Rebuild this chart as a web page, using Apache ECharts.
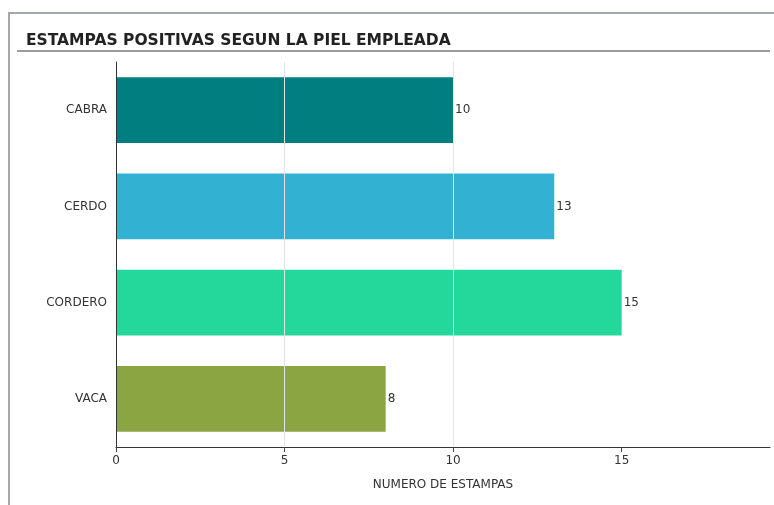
<!DOCTYPE html>
<html><head><meta charset="utf-8">
<script src="https://cdn.jsdelivr.net/npm/echarts@6/dist/echarts.min.js"></script>
<style>html,body{margin:0;padding:0;background:#fff}#c{width:774px;height:505px}</style>
</head><body><div id="c"></div>
<script>
var categories = ['CABRA', 'CERDO', 'CORDERO', 'VACA'];
var values = [10, 13, 15, 8];
var barColors = ['#017f80', '#33b1d3', '#24d89c', '#8ca543'];
var xTicks = [0, 5, 10, 15];
var titleText = 'ESTAMPAS POSITIVAS SEGUN LA PIEL EMPLEADA';
var xName = 'NUMERO DE ESTAMPAS';

var chart = echarts.init(document.getElementById('c'));
chart.setOption({
  animation: false,
  backgroundColor: '#fff',
  title: {
    text: titleText, left: 21, top: 28,
    textStyle: { fontFamily: 'DejaVu Sans', fontSize: 15.5, fontWeight: 'bold', color: '#222' }
  },
  graphic: [
    { type: 'rect', shape: { x: 8, y: 12, width: 770, height: 2 }, style: { fill: '#a3a8ad' } },
    { type: 'rect', shape: { x: 8, y: 12, width: 2, height: 500 }, style: { fill: '#a3a8ad' } },
    { type: 'rect', shape: { x: 17, y: 50, width: 753, height: 2 }, style: { fill: '#9c9c9c' } }
  ],
  grid: { left: 116, right: 4, top: 62, bottom: 58 },
  xAxis: {
    type: 'value', min: 0, max: 19.4, interval: 5, z: 3,
    name: xName, nameLocation: 'middle', nameGap: 32,
    nameTextStyle: { fontFamily: 'DejaVu Sans', fontSize: 12, color: '#333' },
    axisLine: { show: true, lineStyle: { color: '#333', width: 1 } },
    axisTick: { show: true, length: 5, customValues: xTicks, lineStyle: { color: '#444' } },
    axisLabel: { fontFamily: 'DejaVu Sans', fontSize: 12, color: '#333', margin: 8, customValues: xTicks },
    splitLine: { show: true, showMinLine: false, showMaxLine: false, lineStyle: { color: '#e4e4e4', width: 1 } }
  },
  yAxis: {
    type: 'category', data: categories, inverse: true, z: 3,
    axisLine: { show: true, lineStyle: { color: '#333', width: 1 } },
    axisTick: { show: false },
    axisLabel: { fontFamily: 'DejaVu Sans', fontSize: 12, color: '#333', margin: 9 },
    splitLine: { show: false }
  },
  series: [{
    type: 'bar', z: 2,
    data: values.map(function (v, i) { return { value: v, itemStyle: { color: barColors[i] } }; }),
    barCategoryGap: '31.5%',
    label: { show: true, position: 'right', distance: 2, fontFamily: 'DejaVu Sans', fontSize: 12, color: '#333' }
  }]
});
</script></body></html>
